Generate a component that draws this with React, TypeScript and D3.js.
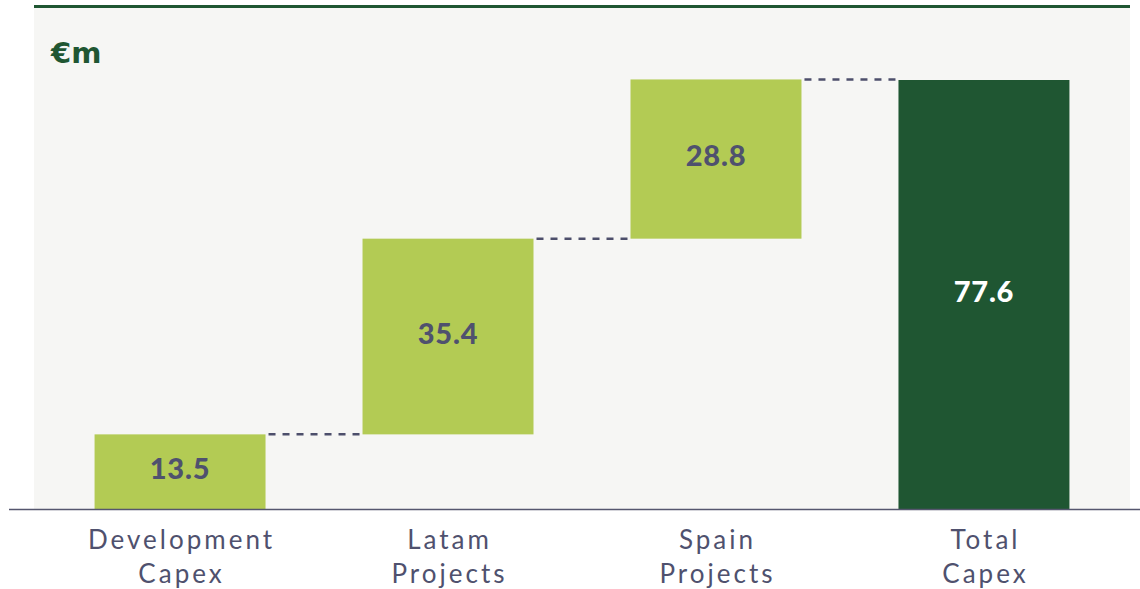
import * as d3 from "d3";

const W = 1140, H = 589;
const PANEL = { left: 34, right: 1130, top: 5, bottom: 509 };

// waterfall data
const categories = ["Development\nCapex", "Latam\nProjects", "Spain\nProjects", "Total\nCapex"];
const values = [13.5, 35.4, 28.8, 77.6];
const isTotal = [false, false, false, true];
const unitLabel = "€m";

const LIGHT = "#B3CB54", DARK = "#1F5632", INK = "#4F516E", BG = "#F6F6F4";
const FONT = "Lato, 'Open Sans', sans-serif";

export default function App() {
  // running sum for the floating bars
  let acc = 0;
  const bars = values.map((v, i) => {
    if (isTotal[i]) return { cat: categories[i], v, y0: 0, y1: v, total: true };
    const b = { cat: categories[i], v, y0: acc, y1: acc + v, total: false };
    acc += v;
    return b;
  });

  const x = d3.scaleBand<string>()
    .domain(categories)
    .range([PANEL.left, PANEL.right])
    .paddingInner(0.362)
    .paddingOuter(0.226);
  const y = d3.scaleLinear([0, 77.6], [PANEL.bottom, 80]);

  return (
    <svg width={W} height={H} style={{ position: "absolute", left: 0, top: 0 }}>
      {/* panel */}
      <rect x={PANEL.left} y={PANEL.top} width={PANEL.right - PANEL.left} height={PANEL.bottom - PANEL.top} fill={BG} />
      <line x1={PANEL.left} x2={PANEL.right} y1={6.5} y2={6.5} stroke={DARK} strokeWidth={3} />

      <text x={51} y={63} fontFamily="'DejaVu Sans', sans-serif" fontWeight={700} fontSize={29} fill={DARK}>{unitLabel}</text>

      {/* connectors */}
      {bars.slice(0, -1).map((b, i) => {
        const next = bars[i + 1];
        return (
          <line key={`c-${i}`}
            x1={x(b.cat)! + x.bandwidth()} x2={x(next.cat)!}
            y1={y(b.y1)} y2={y(b.y1)}
            stroke="#4D4F6B" strokeWidth={2.5} strokeDasharray="7 7" strokeDashoffset={-3} />
        );
      })}

      {/* bars */}
      {bars.map((b) => (
        <g key={b.cat}>
          <rect x={x(b.cat)} y={y(b.y1)} width={x.bandwidth()} height={y(b.y0) - y(b.y1)}
            fill={b.total ? DARK : LIGHT} />
          <text x={x(b.cat)! + x.bandwidth() / 2} y={(y(b.y0) + y(b.y1)) / 2 + 7}
            textAnchor="middle" fontFamily={FONT} fontWeight={900} fontSize={29}
            fill={b.total ? "#FFFFFF" : INK} letterSpacing={0.8}>
            {b.v.toFixed(1)}
          </text>
        </g>
      ))}

      {/* baseline */}
      <line x1={9} x2={W} y1={PANEL.bottom + 0.5} y2={PANEL.bottom + 0.5} stroke="#55566E" strokeWidth={1.5} />

      {/* category labels */}
      {categories.map((c) => (
        <text key={c} x={x(c)! + x.bandwidth() / 2} textAnchor="middle"
          fontFamily={FONT} fontSize={26} fill={INK} letterSpacing={3}>
          {c.split("\n").map((line, j) => (
            <tspan key={j} x={x(c)! + x.bandwidth() / 2 + 1.5} y={549 + j * 34}>{line}</tspan>
          ))}
        </text>
      ))}
    </svg>
  );
}
